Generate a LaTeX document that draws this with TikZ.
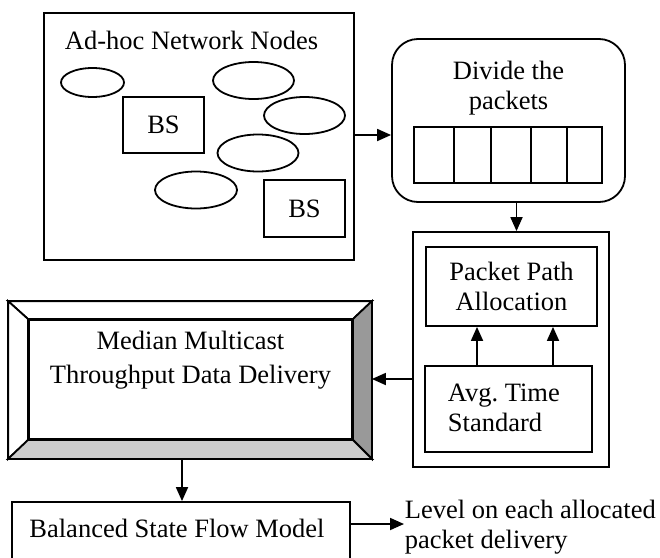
\documentclass[tikz,border=0pt]{standalone}
\usepackage{fontspec}
\setmainfont{Liberation Serif}
\usetikzlibrary{arrows.meta,shapes.geometric,calc}
\newcommand\dgfont{\fontsize{26.5}{30}\selectfont}
\begin{document}
\begin{tikzpicture}[x=1pt,y=-1pt,line width=1.8pt,
  box/.style={draw,rectangle,inner sep=0pt,font=\dgfont,align=center},
  oval/.style={draw,ellipse,inner sep=0pt},
  txt/.style={inner sep=0pt,font=\dgfont,align=center},
  arr/.style={-{Triangle[length=14pt,width=12pt]}},
  darkbevel/.style={fill=black!40},
  lightbevel/.style={fill=black!20}]
\clip (0,0) rectangle (660,557);
\fill[white] (0,0) rectangle (660,557);

% network box
\node[box,minimum width=310,minimum height=247] (net) at (199,136.5) {};
\node[txt] (nettitle) at (191.5,40) {Ad-hoc Network Nodes};
\node[oval,minimum width=63,minimum height=29] (e1) at (92.5,82.5) {};
\node[oval,minimum width=81,minimum height=37] (e2) at (253.5,80.5) {};
\node[oval,minimum width=81,minimum height=37] (e3) at (304.5,115.5) {};
\node[oval,minimum width=81,minimum height=37] (e4) at (258,153) {};
\node[oval,minimum width=82,minimum height=37] (e5) at (196,190) {};
\node[box,minimum width=81,minimum height=56] (bs1) at (163.5,125) {BS};
\node[box,minimum width=81,minimum height=57] (bs2) at (304.5,208.5) {BS};

% divide the packets
\node[box,rounded corners=26pt,minimum width=233,minimum height=163] (div) at (508.5,120.5) {};
\node[txt] (divt) at (508.5,88) {Divide the\\packets};
\node[box,minimum width=40,minimum height=56] (c1) at (434,155) {};
\node[box,minimum width=37,minimum height=56] (c2) at (472.5,155) {};
\node[box,minimum width=40,minimum height=56] (c3) at (511,155) {};
\node[box,minimum width=36,minimum height=56] (c4) at (549,155) {};
\node[box,minimum width=35,minimum height=56] (c5) at (584.5,155) {};

% path allocation block
\node[box,minimum width=196,minimum height=235] (outer) at (511,349.5) {};
\node[box,minimum width=171,minimum height=79] (ppa) at (511.5,286.5) {Packet Path\\Allocation};
\node[box,minimum width=167,minimum height=86] (avg) at (508.5,409) {};
\node[txt,anchor=west,align=left] (avgt) at (447,407.5) {Avg.\ Time\\Standard};

% bevelled box
\node[box,minimum width=362,minimum height=156] (mm) at (190,380) {};
\node[box,minimum width=323,minimum height=119] (mmi) at (190.5,379.5) {};
\draw[fill=white] (mm.north west) -- (mmi.north west) -- (mmi.north east) -- (mm.north east) -- cycle;
\draw[fill=white] (mm.north west) -- (mmi.north west) -- (mmi.south west) -- (mm.south west) -- cycle;
\draw[darkbevel] (mm.north east) -- (mmi.north east) -- (mmi.south east) -- (mm.south east) -- cycle;
\draw[lightbevel] (mm.south west) -- (mmi.south west) -- (mmi.south east) -- (mm.south east) -- cycle;
\node[txt] (mmt) at (190.5,360) {Median Multicast\\[4pt]Throughput Data Delivery};

% balanced state flow model
\node[box,minimum width=338,minimum height=58] (bal) at (181,531) {};
\node[txt] (balt) at (177,528.5) {Balanced State Flow Model};
\node[txt,anchor=west,align=left] (lvl) at (404,527) {Level on each allocated\\packet delivery};

% connectors
\draw[arr] ([yshift=1.5pt]net.east) -- ([yshift=1.5pt]net.east -| div.west);
\draw[arr] ([xshift=8pt]div.south) -- ([xshift=8pt]div.south |- outer.north);
\draw[arr] ([xshift=-31.5pt]avg.north) -- ([xshift=-31.5pt]avg.north |- ppa.south);
\draw[arr] ([xshift=44.5pt]avg.north) -- ([xshift=44.5pt]avg.north |- ppa.south);
\draw[arr] ([yshift=-29.5pt]outer.west) -- ([yshift=-29.5pt]outer.west -| mm.east);
\draw[arr] ([xshift=-8pt]mm.south) -- ([xshift=-8pt]mm.south |- bal.north);
\draw[arr] ([yshift=7pt]bal.east) -- ([yshift=7pt]bal.east -| lvl.west);
\end{tikzpicture}
\end{document}
